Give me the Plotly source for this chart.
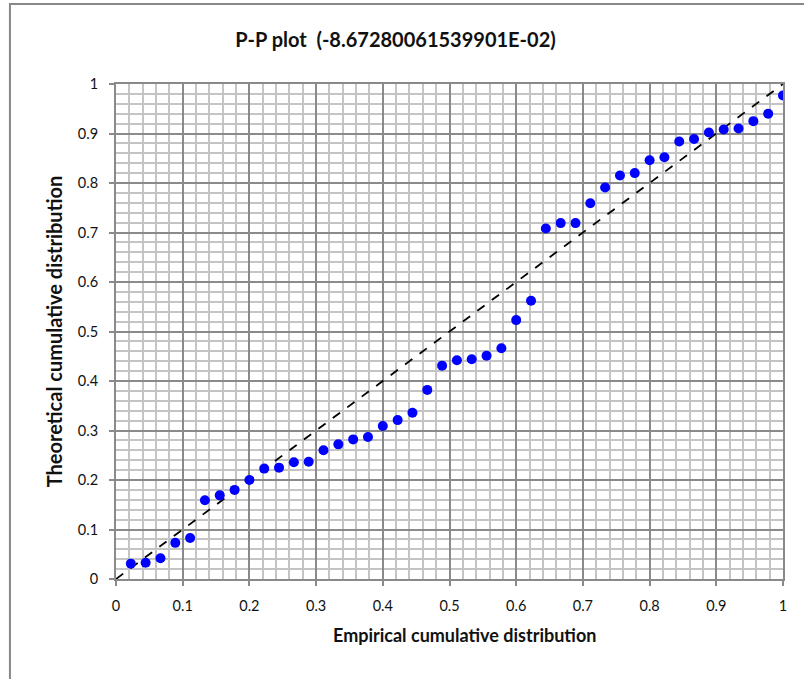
import plotly.graph_objects as go

# Empirical cumulative probabilities (i/45) and fitted theoretical CDF values
n_obs = 45
empirical = [i / n_obs for i in range(1, n_obs + 1)]
theoretical = [
    0.031, 0.033, 0.042, 0.073, 0.083, 0.159, 0.169, 0.180, 0.200, 0.223,
    0.225, 0.236, 0.237, 0.260, 0.272, 0.282, 0.287, 0.309, 0.321, 0.336,
    0.382, 0.431, 0.442, 0.444, 0.451, 0.466, 0.523, 0.562, 0.708, 0.719,
    0.719, 0.759, 0.791, 0.815, 0.820, 0.846, 0.852, 0.884, 0.889, 0.902,
    0.908, 0.910, 0.925, 0.940, 0.977,
]
ref_line = [0, 1]
tick_vals = [round(0.1 * k, 1) for k in range(11)]
tick_text = ["0", "0.1", "0.2", "0.3", "0.4", "0.5", "0.6", "0.7", "0.8", "0.9", "1"]

FONT = "Lato, 'Open Sans', sans-serif"
MAJOR = "#8a8a8a"
MINOR = "#c4c4c4"

fig = go.Figure()
fig.add_trace(go.Scatter(
    x=ref_line, y=ref_line, mode="lines",
    line=dict(color="black", width=1.8, dash="dash"),
    hoverinfo="skip", showlegend=False,
))
fig.add_trace(go.Scatter(
    x=empirical, y=theoretical, mode="markers",
    marker=dict(color="#0000ff", size=10),
    showlegend=False,
))

axis_common = dict(
    range=[0, 1], tickvals=tick_vals, ticktext=tick_text,
    showgrid=True, gridcolor=MAJOR, gridwidth=1.5,
    minor=dict(dtick=0.02, showgrid=True, gridcolor=MINOR, gridwidth=1.5,
               ticks=""),
    showline=True, linecolor=MAJOR, linewidth=2, mirror=True,
    ticks="outside", ticklen=5, tickcolor=MAJOR, tickwidth=1.5,
    zeroline=False,
    tickfont=dict(family=FONT, size=14.5, color="#111"),
    ticklabelstandoff=8,
)

fig.update_layout(
    width=804, height=679,
    margin=dict(l=116, r=21, t=84, b=100),
    paper_bgcolor="white", plot_bgcolor="white",
    title=dict(
        text="<b>P-P plot  (-8.67280061539901E-02)</b>",
        x=0.492, xanchor="center", y=0.941, yanchor="middle",
        font=dict(family=FONT, size=20, color="#111"),
    ),
    xaxis=dict(**axis_common),
    yaxis=dict(**axis_common,
               title=dict(text="<b>Theoretical cumulative distribution</b>",
                          font=dict(family=FONT, size=20, color="#111"),
                          standoff=10)),
    annotations=[dict(
        text="<b>Empirical cumulative distribution</b>",
        xref="paper", yref="paper", x=0.523, y=-0.113,
        xanchor="center", yanchor="middle", showarrow=False,
        font=dict(family=FONT, size=18, color="#111"),
    )],
    shapes=[dict(
        type="rect", xref="paper", yref="paper",
        x0=-0.159, x1=1.2, y0=-0.4, y1=1.1615,
        line=dict(color="#888888", width=2), layer="below",
    )],
)

fig.write_html("out.html")
